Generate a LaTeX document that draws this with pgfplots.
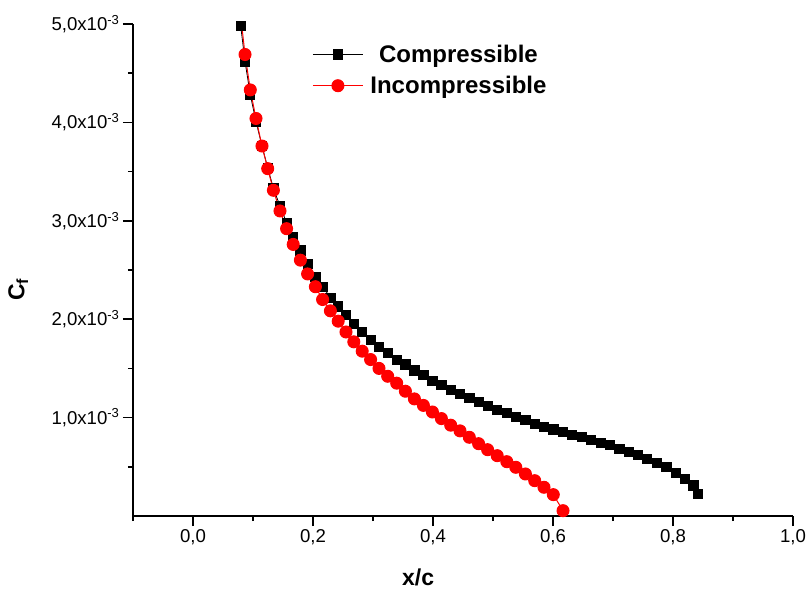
\documentclass[border=0pt]{standalone}
\usepackage{fontspec}
\setmainfont{Liberation Sans}
\usepackage{pgfplots}
\usepackage{pgfplotstable}
\pgfplotsset{compat=1.18}

% Skin friction coefficient along the chord, C_f in units of 1e-3
\pgfplotstableread{
x       cf
0.0795  4.98
0.0867  4.62
0.0955  4.28
0.105   4.01
0.115   3.76
0.1245  3.54
0.134   3.33
0.145   3.15
0.156   2.98
0.167   2.835
0.179   2.70
0.191   2.56
0.204   2.43
0.216   2.33
0.229   2.22
0.242   2.13
0.255   2.04
0.268   1.95
0.282   1.87
0.296   1.79
0.310   1.72
0.3245  1.655
0.3395  1.59
0.354   1.54
0.369   1.48
0.384   1.43
0.399   1.37
0.414   1.33
0.4295  1.28
0.445   1.24
0.4605  1.197
0.476   1.16
0.491   1.12
0.507   1.08
0.523   1.045
0.538   1.004
0.554   0.973
0.5695  0.939
0.585   0.908
0.6005  0.88
0.6167  0.855
0.632   0.824
0.648   0.80
0.663   0.773
0.6795  0.746
0.695   0.719
0.7105  0.685
0.726   0.651
0.7417  0.617
0.757   0.583
0.773   0.542
0.789   0.495
0.805   0.44
0.820   0.38
0.834   0.31
0.842   0.224
}\compressible

\pgfplotstableread{
x       cf
0.0795  5.08
0.0867  4.69
0.0955  4.33
0.105   4.04
0.115   3.76
0.1245  3.53
0.134   3.31
0.145   3.10
0.156   2.92
0.167   2.76
0.179   2.60
0.191   2.46
0.204   2.33
0.216   2.20
0.229   2.085
0.242   1.98
0.255   1.87
0.268   1.77
0.282   1.675
0.296   1.59
0.310   1.50
0.3245  1.42
0.3395  1.35
0.354   1.268
0.369   1.19
0.384   1.124
0.399   1.057
0.414   0.99
0.4295  0.923
0.445   0.865
0.4605  0.80
0.476   0.735
0.491   0.674
0.507   0.613
0.523   0.552
0.538   0.495
0.554   0.427
0.5695  0.359
0.585   0.292
0.6005  0.217
0.6167  0.054
}\incompressible

\begin{document}
\begin{tikzpicture}
\useasboundingbox (-133bp,-78bp) rectangle (675bp,516bp);
\begin{axis}[
  at={(0,0)}, anchor=south west,
  scale only axis, width=660bp, height=492bp,
  xmin=-0.1, xmax=1.0, ymin=0, ymax=5,
  axis x line*=bottom, axis y line*=left,
  axis line style={line width=1.6bp, -},
  xtick={0,0.2,0.4,0.6,0.8,1.0},
  xticklabels={{0,0},{0,2},{0,4},{0,6},{0,8},{1,0}},
  minor xtick={-0.1,0.1,0.3,0.5,0.7,0.9},
  ytick={1,2,3,4,5},
  yticklabels={{1,0x10\textsuperscript{-3}},{2,0x10\textsuperscript{-3}},{3,0x10\textsuperscript{-3}},{4,0x10\textsuperscript{-3}},{5,0x10\textsuperscript{-3}}},
  minor ytick={0.5,1.5,2.5,3.5,4.5},
  tick align=outside,
  major tick length=10bp, minor tick length=5bp,
  every tick/.style={black, line width=1.6bp},
  tick label style={font=\fontsize{18.6bp}{22bp}\selectfont},
  xlabel={x/c},
  ylabel={C\textsubscript{f}},
  label style={font=\fontsize{23bp}{27bp}\selectfont\bfseries},
  xlabel style={at={(axis description cs:0.432,-0.124)}, anchor=center},
  ylabel style={at={(axis description cs:-0.174,0.46)}, anchor=center, rotate=0},
  legend cell align=center,
  legend image code/.code={\draw[mark repeat=2,mark phase=2,#1] plot coordinates {(0bp,0bp)(25bp,0bp)(50bp,0bp)};},
  legend style={draw=none, fill=none, at={(axis description cs:0.267,0.966)}, anchor=north west,
    font=\fontsize{24bp}{28bp}\selectfont\bfseries, row sep=8.5bp,
    nodes={inner xsep=7bp}},
]
\addplot[black, line width=0.8bp, mark=square*, mark size=4.6bp, mark options={fill=black, solid}]
  table[x=x, y=cf] {\compressible};
\addlegendentry{Compressible}
\addplot[red, line width=1bp, mark=*, mark size=6bp, mark options={fill=red, solid}]
  table[x=x, y=cf] {\incompressible};
\addlegendentry{Incompressible}
\end{axis}
\end{tikzpicture}
\end{document}
